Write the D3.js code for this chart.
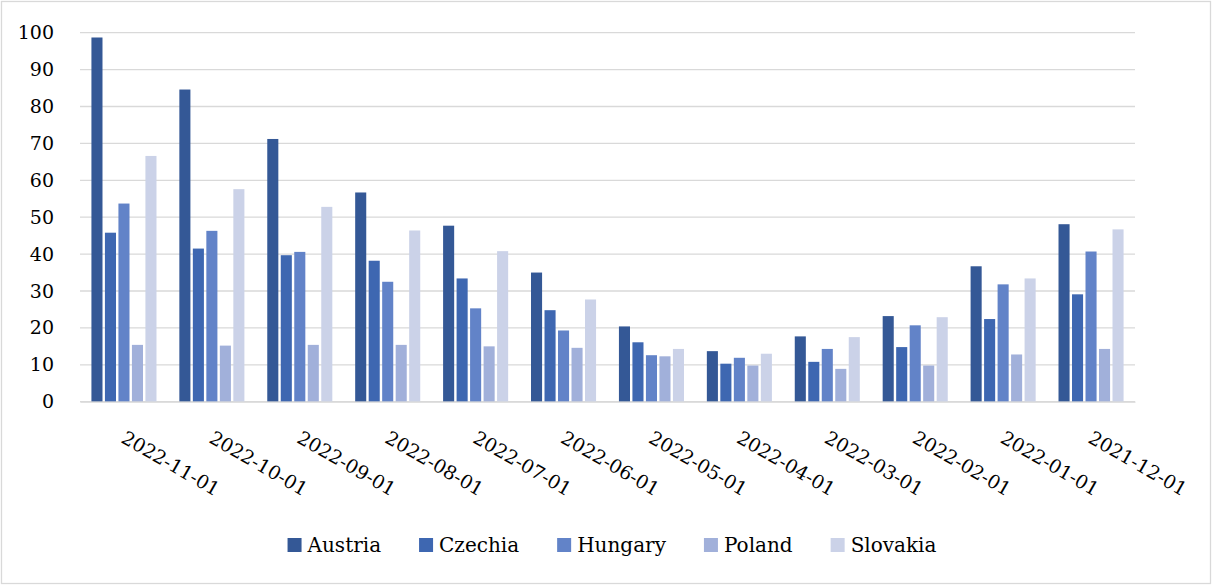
<!DOCTYPE html>
<html>
<head>
<meta charset="utf-8">
<script src="https://cdn.jsdelivr.net/npm/d3@7"></script>
<style>
  html, body { margin: 0; padding: 0; background: #fff; }
  svg { display: block; }
  text { font-family: "DejaVu Serif", serif; fill: #000; }
</style>
</head>
<body>
<div id="chart"></div>
<script>
// Categories (as they appear left to right)
const months = ['2022-11-01', '2022-10-01', '2022-09-01', '2022-08-01', '2022-07-01', '2022-06-01',
                '2022-05-01', '2022-04-01', '2022-03-01', '2022-02-01', '2022-01-01', '2021-12-01'];

// Series values, one array per country
const austria  = [98.7, 84.6, 71.2, 56.7, 47.7, 35.0, 20.4, 13.7, 17.7, 23.2, 36.7, 48.1];
const czechia  = [45.8, 41.5, 39.7, 38.2, 33.4, 24.8, 16.1, 10.3, 10.8, 14.8, 22.4, 29.1];
const hungary  = [53.7, 46.3, 40.6, 32.5, 25.3, 19.3, 12.6, 11.9, 14.3, 20.7, 31.8, 40.7];
const poland   = [15.4, 15.2, 15.4, 15.4, 15.0, 14.6, 12.3,  9.8,  8.9,  9.8, 12.8, 14.3];
const slovakia = [66.6, 57.6, 52.8, 46.4, 40.8, 27.7, 14.3, 13.0, 17.5, 22.9, 33.4, 46.7];

const countries = ['Austria', 'Czechia', 'Hungary', 'Poland', 'Slovakia'];
const seriesValues = [austria, czechia, hungary, poland, slovakia];
const yTicks = [0, 10, 20, 30, 40, 50, 60, 70, 80, 90, 100];

// Colours for the five series
const colors = ['#345896', '#3e67b1', '#6283c8', '#a1b0da', '#cbd2e8'];

// Chart size
const W = 1212, H = 585;
const margin = {top: 32.7, right: 77, bottom: 183.3, left: 80};
const width = W - margin.left - margin.right;
const height = H - margin.top - margin.bottom;

const root = d3.select("#chart")
    .append("svg")
    .attr("width", W)
    .attr("height", H);

// Outer frame
root.append("rect")
    .attr("x", 1.5)
    .attr("y", 1.5)
    .attr("width", W - 3)
    .attr("height", H - 3)
    .attr("fill", "#fff")
    .attr("stroke", "#d9d9d9")
    .attr("stroke-width", 1.3);

const svg = root.append("g")
    .attr("transform", `translate(${margin.left},${margin.top})`);

// Scales
const x0 = d3.scaleBand()
    .domain(months)
    .range([0, width])
    .paddingInner(0.26)
    .paddingOuter(0.13);

const x1 = d3.scaleBand()
    .domain(countries)
    .range([0, x0.bandwidth()])
    .paddingInner(0.18);

const y = d3.scaleLinear()
    .domain([0, 100])
    .range([height, 0]);

// Horizontal gridlines
svg.append("g")
    .selectAll("line")
    .data(yTicks)
    .join("line")
    .attr("x1", 0)
    .attr("x2", width)
    .attr("y1", d => y(d))
    .attr("y2", d => y(d))
    .attr("stroke", "#d9d9d9")
    .attr("stroke-width", 1.3);

// Y axis labels
const yAxis = svg.append("g")
    .attr("transform", "translate(-26,0)")
    .call(d3.axisLeft(y).tickValues(yTicks).tickSize(0).tickPadding(0));
yAxis.select(".domain").remove();
yAxis.selectAll("text")
    .style("font-family", '"DejaVu Serif"')
    .style("font-size", "19px")
    .attr("fill", "#000");

// Bars
const rows = months.map((m, i) => ({month: m, values: countries.map((c, j) => ({country: c, value: seriesValues[j][i]}))}));

svg.append("g")
    .selectAll("g")
    .data(rows)
    .join("g")
    .attr("transform", d => `translate(${x0(d.month)},0)`)
    .selectAll("rect")
    .data(d => d.values)
    .join("rect")
    .attr("x", d => x1(d.country))
    .attr("y", d => y(d.value))
    .attr("width", x1.bandwidth())
    .attr("height", d => height - y(d.value))
    .attr("fill", (d, i) => colors[i]);

// X axis labels, rotated
const xAxis = svg.append("g")
    .attr("transform", `translate(0,${height})`)
    .call(d3.axisBottom(x0).tickSize(0).tickPadding(0));
xAxis.select(".domain")
    .attr("stroke", "#d9d9d9")
    .attr("stroke-width", 1.3);
xAxis.selectAll("text")
    .style("font-family", '"DejaVu Serif"')
    .style("font-size", "19px")
    .attr("fill", "#000")
    .attr("text-anchor", "start")
    .attr("dy", null)
    .attr("y", 0)
    .attr("transform", "translate(-4,40) rotate(30)");

// Legend
const legend = root.append("g");
const items = legend.selectAll("g")
    .data(countries)
    .join("g");

items.append("rect")
    .attr("y", 538)
    .attr("width", 14)
    .attr("height", 14)
    .attr("fill", (d, i) => colors[i]);

items.append("text")
    .attr("x", 20)
    .attr("y", 552)
    .style("font-family", '"DejaVu Serif"')
    .style("font-size", "20px")
    .text(d => d);

// Lay out the legend items one after another, centred
const gap = 38;
let pos = 0;
const offsets = [];
items.each(function() {
    const w = d3.select(this).select("text").node().getComputedTextLength();
    offsets.push(pos);
    pos += 20 + w + gap;
});
const total = pos - gap;
const start = 612 - total / 2;
items.attr("transform", (d, i) => `translate(${start + offsets[i]},0)`);
</script>
</body>
</html>
